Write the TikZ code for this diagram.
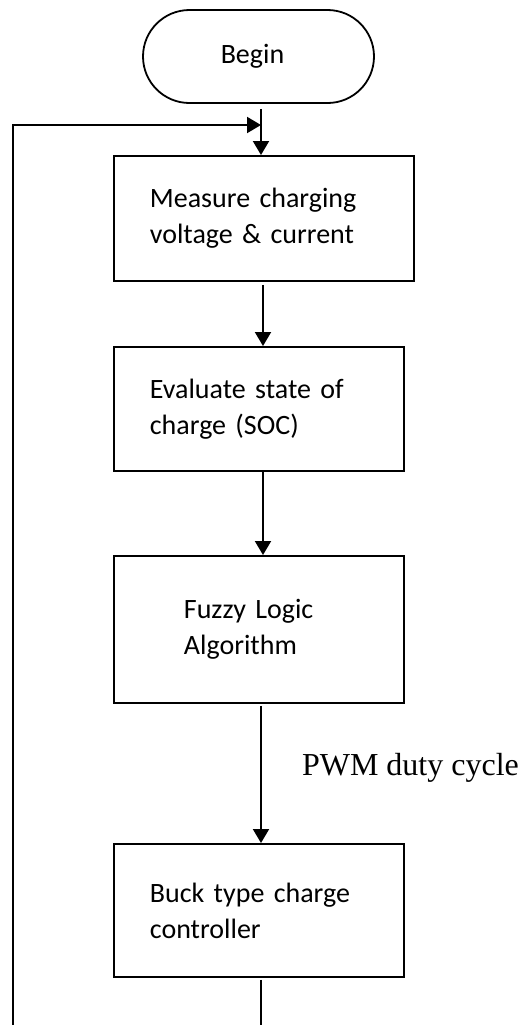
\documentclass[tikz,border=0pt]{standalone}
\usepackage{fontspec}
\setmainfont{Carlito}
\newfontfamily\labelfont{Liberation Serif}
\usetikzlibrary{arrows.meta,shapes.misc}
\begin{document}
\begin{tikzpicture}[x=0.5pt,y=-0.5pt,
  every node/.style={font=\fontsize{14pt}{18pt}\selectfont},
  stepbox/.style={draw,line width=0.9pt,anchor=north west,align=left,
    inner xsep=18pt,inner ysep=0pt,minimum height=#1},
  terminal/.style={draw,line width=0.9pt,rounded rectangle,
    minimum width=115.5pt,minimum height=46.5pt,inner sep=0pt},
  arr/.style={line width=1pt,-{Triangle[length=7pt,width=8pt]}},
  plain/.style={line width=1pt}]
\useasboundingbox (0,0) rectangle (521,1025);

% start terminal
\node[terminal] (begin) at (258.5,56.5) {\raisebox{2.5pt}{Begin}\hspace*{6pt}};

% process steps
\node[stepbox=62.5pt,text width=114pt] (meas) at (113,155)
  {Measure charging\\voltage \& current};
\node[stepbox=62pt,text width=109pt] (soc) at (113,346)
  {Evaluate state of\\charge (SOC)};
\node[stepbox=73.5pt,text width=109pt] (fuzzy) at (113,555)
  {\hspace*{17pt}Fuzzy Logic\\\hspace*{17pt}Algorithm\\[4pt]};
\node[stepbox=66.5pt,text width=109pt] (buck) at (113,843)
  {Buck type charge\\controller};

% free ends of the feedback loop
\coordinate (loopout) at (261,1025);
\coordinate (loopin) at (13,1025);
\coordinate (join) at (261,125);

% forward flow
\draw[arr] ([yshift=-2.5pt]begin.south -| join) -- (meas.north -| join);
\draw[arr] ([yshift=-1.5pt]meas.south -| 263,0) -- (soc.north -| 263,0);
\draw[arr] (soc.south -| 263,0) -- (fuzzy.north -| 263,0);
\draw[arr] ([yshift=-1pt]fuzzy.south -| join) -- (buck.north -| join)
  node[pos=0.45,right=20pt,inner sep=0pt,
       font=\labelfont\fontsize{16pt}{19pt}\selectfont] (pwm) {PWM duty cycle};

% feedback loop
\draw[plain] ([yshift=-1pt]buck.south -| loopout) -- (loopout);
\draw[arr] (loopin) |- (join);
\end{tikzpicture}
\end{document}
